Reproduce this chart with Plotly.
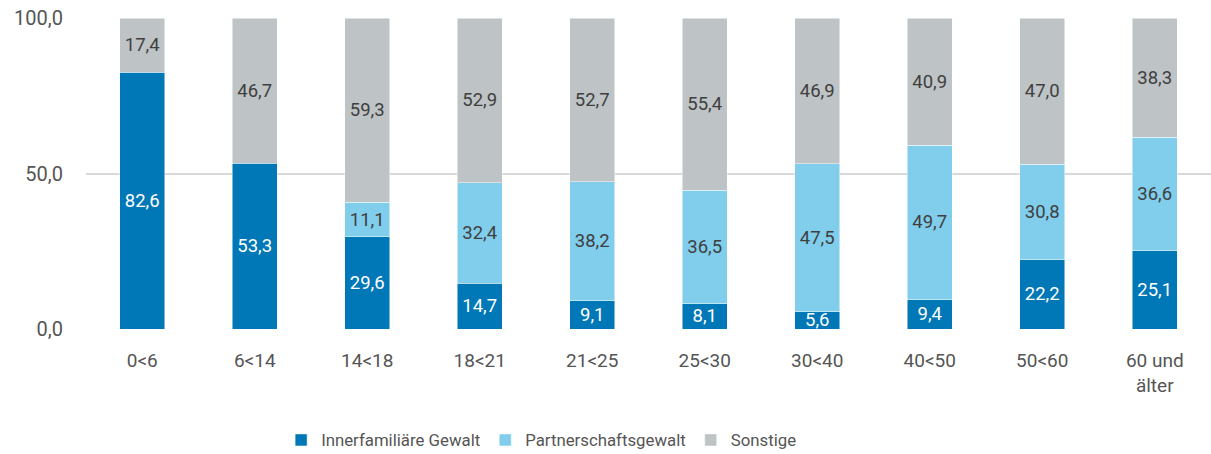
import plotly.graph_objects as go

# Age groups and share (%) of each type of violence
age_groups = ["0<6", "6<14", "14<18", "18<21", "21<25", "25<30",
              "30<40", "40<50", "50<60", "60 und<br>älter"]
innerfamiliaer = [82.6, 53.3, 29.6, 14.7, 9.1, 8.1, 5.6, 9.4, 22.2, 25.1]
partnerschaft = [None, None, 11.1, 32.4, 38.2, 36.5, 47.5, 49.7, 30.8, 36.6]
sonstige = [17.4, 46.7, 59.3, 52.9, 52.7, 55.4, 46.9, 40.9, 47.0, 38.3]

y_ticks = [0, 50, 100]
y_tick_labels = ["0,0", "50,0", "100,0"]

FONT = "Roboto"
TEXT = "#555555"


def fmt(values):
    return ["" if v is None else f"{v:.1f}".replace(".", ",") for v in values]


series = [
    ("Innerfamiliäre Gewalt", innerfamiliaer, "#0077B6", "white"),
    ("Partnerschaftsgewalt", partnerschaft, "#80CDEC", "#3F3F3F"),
    ("Sonstige", sonstige, "#BEC3C6", "#3F3F3F"),
]

fig = go.Figure()
for name, vals, color, tcolor in series:
    fig.add_trace(go.Bar(
        name=name,
        x=age_groups,
        y=vals,
        text=fmt(vals),
        textposition="inside",
        insidetextanchor="middle",
        constraintext="none",
        textangle=0,
        textfont=dict(family=FONT, size=18.5, color=tcolor),
        marker=dict(color=color, line=dict(color="rgba(255,255,255,0.6)", width=0.8)),
        hoverinfo="skip",
    ))

fig.update_layout(
    barmode="stack",
    bargap=0.6,
    width=1211,
    height=454,
    margin=dict(l=86, r=0, t=18, b=125, autoexpand=False),
    paper_bgcolor="white",
    plot_bgcolor="white",
    font=dict(family=FONT, size=18, color=TEXT),
    showlegend=True,
    legend=dict(
        orientation="h",
        traceorder="normal",
        x=0.405, xanchor="center",
        yref="container",
        y=14 / 454, yanchor="middle",
        font=dict(family=FONT, size=16.8, color=TEXT),
        itemwidth=30,
    ),
    xaxis=dict(
        showgrid=False,
        showline=False,
        ticks="",
        ticklabelstandoff=18,
        tickfont=dict(family=FONT, size=19, color=TEXT),
    ),
    yaxis=dict(
        range=[0, 100],
        tickvals=y_ticks,
        ticktext=y_tick_labels,
        showgrid=True,
        gridcolor="#D9D9D9",
        gridwidth=1.5,
        zeroline=False,
        showline=False,
        ticks="",
        ticklabelstandoff=22,
        tickfont=dict(family=FONT, size=20, color=TEXT),
    ),
)

fig.write_html("out.html")
